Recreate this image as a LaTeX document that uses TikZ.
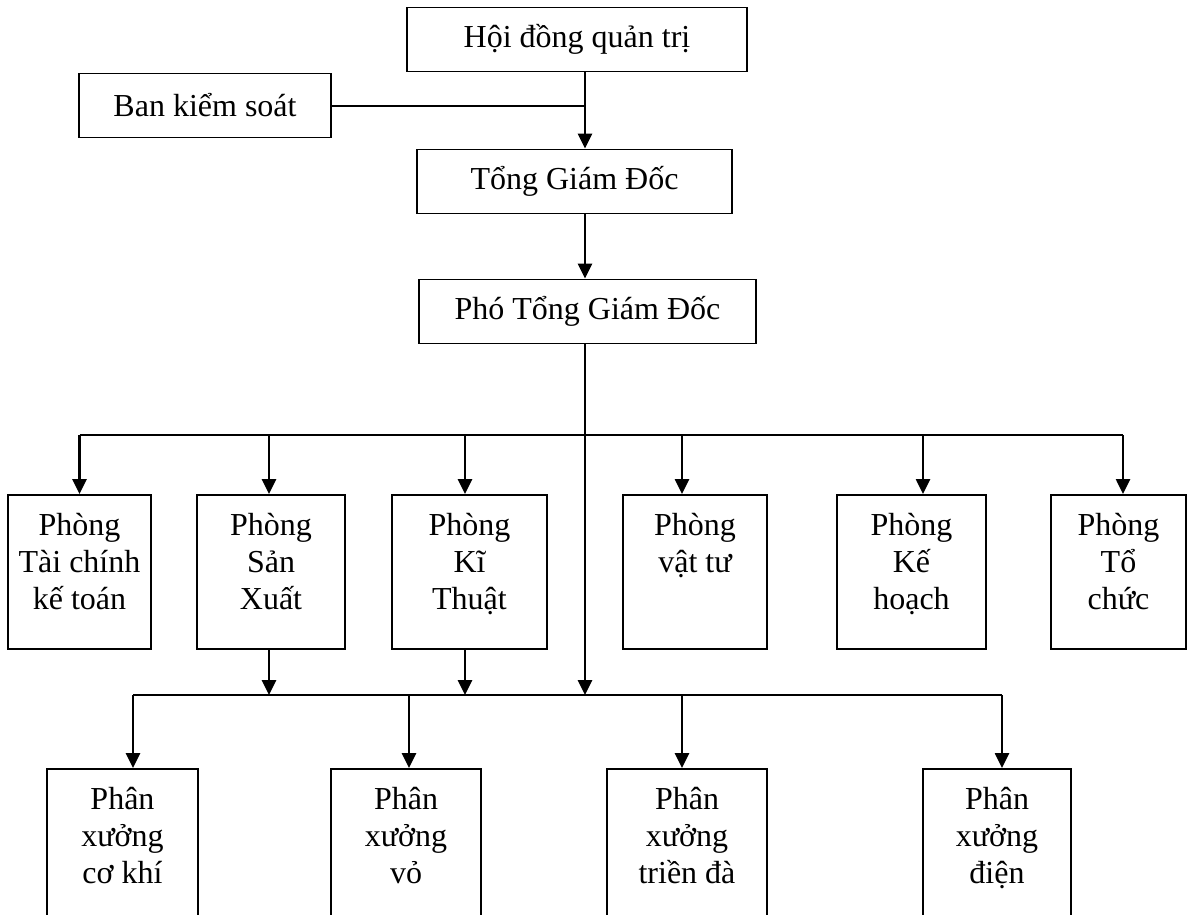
\documentclass[tikz,border=0pt]{standalone}
\usepackage{fontspec}
\setmainfont{Liberation Serif}
\usetikzlibrary{arrows.meta, calc, positioning}

\newcommand{\boxtext}[3]{\parbox[c][#1][t]{#2}{\centering\rule{0pt}{41pt}#3}}

\begin{document}
\begin{tikzpicture}[x=1pt, y=-1pt, font=\fontsize{32}{37}\selectfont]
\tikzstyle{unit}=[draw, line width=1.8pt, inner sep=0pt, minimum height=64pt]
\tikzstyle{dept}=[draw, line width=1.8pt, inner sep=0pt, anchor=north]
\tikzstyle{link}=[line width=2pt]
\tikzstyle{down}=[-{Triangle[length=15pt,width=14pt]}, line width=2.6pt]

\useasboundingbox (0,0) rectangle (1189,914);

\coordinate (spine) at (585,0);
\coordinate (bus1) at (0,435);
\coordinate (bus2) at (0,695);

\node[unit, minimum width=340pt] (hdqt) at (577,39.5) {Hội đồng quản trị};
\node[unit, minimum width=252pt] (bks) at (205,105.5) {Ban kiểm soát};
\node[unit, minimum width=315pt] (tgd) at (574.5,181.5) {Tổng Giám Đốc};
\node[unit, minimum width=337pt] (ptgd) at (587.5,311.5) {Phó Tổng Giám Đốc};

\node[dept] (tc) at (79.5,494) {\boxtext{154pt}{143pt}{Phòng\\Tài chính\\kế toán}};
\node[dept] (sx) at (271,494) {\boxtext{154pt}{148pt}{Phòng\\Sản\\Xuất}};
\node[dept] (kt) at (469.5,494) {\boxtext{154pt}{155pt}{Phòng\\Kĩ\\Thuật}};
\node[dept] (vt) at (695,494) {\boxtext{154pt}{144pt}{Phòng\\vật tư}};
\node[dept] (kh) at (911.5,494) {\boxtext{154pt}{149pt}{Phòng\\Kế\\hoạch}};
\node[dept] (toc) at (1118.5,494) {\boxtext{154pt}{135pt}{Phòng\\Tổ\\chức}};

\node[dept] (ck) at (122.5,768) {\boxtext{170pt}{151pt}{Phân\\xưởng\\cơ khí}};
\node[dept] (vo) at (406,768) {\boxtext{170pt}{150pt}{Phân\\xưởng\\vỏ}};
\node[dept] (td) at (687,768) {\boxtext{170pt}{160pt}{Phân\\xưởng\\triền đà}};
\node[dept] (dien) at (997,768) {\boxtext{170pt}{148pt}{Phân\\xưởng\\điện}};

\draw[link] (bks.east) -- (bks.east -| spine);
\draw[down] (hdqt.south -| spine) -- (tgd.north -| spine);
\draw[down] (tgd.south -| spine) -- (ptgd.north -| spine);
\draw[down] (ptgd.south -| spine) -- (spine |- bus2);

\draw[link] (tc.north |- bus1) -- ([xshift=4.5pt]toc.north |- bus1);
\draw[down] (tc.north |- bus1) -- (tc.north);
\draw[down] ([xshift=-2pt]sx.north |- bus1) -- ([xshift=-2pt]sx.north);
\draw[down] ([xshift=-4.5pt]kt.north |- bus1) -- ([xshift=-4.5pt]kt.north);
\draw[down] ([xshift=-13pt]vt.north |- bus1) -- ([xshift=-13pt]vt.north);
\draw[down] ([xshift=11.5pt]kh.north |- bus1) -- ([xshift=11.5pt]kh.north);
\draw[down] ([xshift=4.5pt]toc.north |- bus1) -- ([xshift=4.5pt]toc.north);

\draw[down] ([xshift=-2pt]sx.south) -- ([xshift=-2pt]sx.south |- bus2);
\draw[down] ([xshift=-4.5pt]kt.south) -- ([xshift=-4.5pt]kt.south |- bus2);

\draw[link] ([xshift=10.5pt]ck.north |- bus2) -- ([xshift=5pt]dien.north |- bus2);
\draw[down] ([xshift=10.5pt]ck.north |- bus2) -- ([xshift=10.5pt]ck.north);
\draw[down] ([xshift=3pt]vo.north |- bus2) -- ([xshift=3pt]vo.north);
\draw[down] ([xshift=-5pt]td.north |- bus2) -- ([xshift=-5pt]td.north);
\draw[down] ([xshift=5pt]dien.north |- bus2) -- ([xshift=5pt]dien.north);
\end{tikzpicture}
\end{document}
